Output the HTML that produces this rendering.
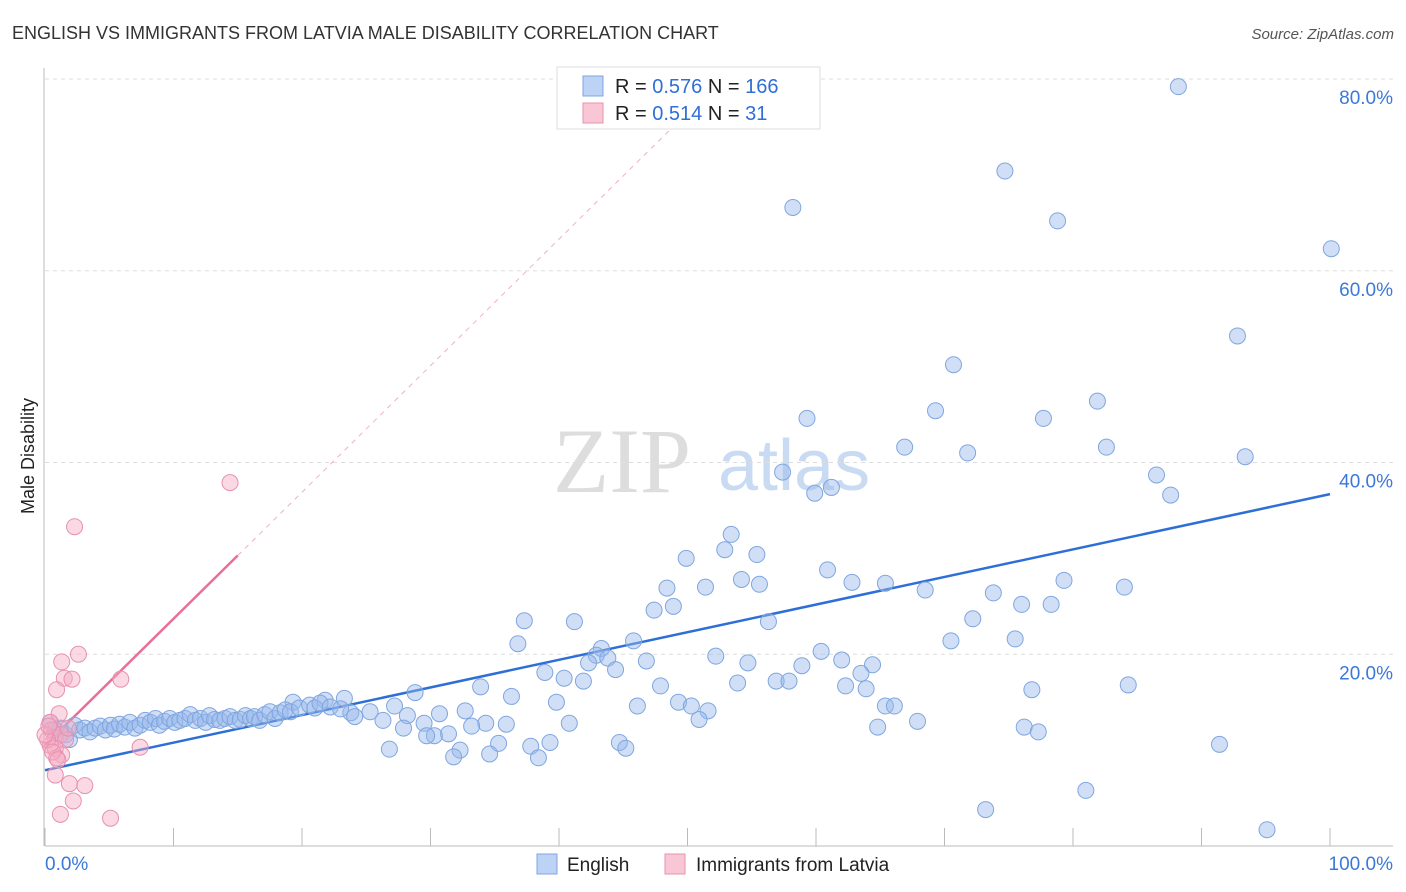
<!DOCTYPE html>
<html><head><meta charset="utf-8"><style>
body{margin:0;background:#fff;font-family:"Liberation Sans",sans-serif}
svg{display:block}
</style></head><body>
<svg id="chart" width="1406" height="892">
<text x="12" y="39" font-size="18" fill="#333">ENGLISH VS IMMIGRANTS FROM LATVIA MALE DISABILITY CORRELATION CHART</text>
<text x="1394" y="39" font-size="15" fill="#555" font-style="italic" text-anchor="end">Source: ZipAtlas.com</text>
<text transform="translate(34,456) rotate(-90)" font-size="18" fill="#222" text-anchor="middle">Male Disability</text>
<g><text x="553" y="492" font-size="92" fill="#ddd" font-family="Liberation Serif,serif">ZIP</text><text x="718" y="490" font-size="72" fill="#c8dbf3">atlas</text></g>
<g id="grid"></g><g id="axes"></g><g id="trend"></g><g id="pts"></g>
<g>
<rect x="557" y="67" width="263" height="62" fill="#fff" stroke="#ddd"/>
<rect x="583" y="76" width="20" height="20" fill="#bcd3f5" stroke="#7fa6e0"/>
<text x="615" y="93" font-size="20" fill="#222">R = <tspan fill="#2f6fd6">0.576</tspan>   N = <tspan fill="#2f6fd6">166</tspan></text>
<rect x="583" y="103" width="20" height="20" fill="#f9c6d6" stroke="#e891ad"/>
<text x="615" y="120" font-size="20" fill="#222">R = <tspan fill="#2f6fd6">0.514</tspan>   N =    <tspan fill="#2f6fd6">31</tspan></text>
</g>
<g>
<rect x="537" y="854" width="20" height="20" fill="#bcd3f5" stroke="#7fa6e0"/>
<text x="567" y="871" font-size="19" fill="#222">English</text>
<rect x="665" y="854" width="20" height="20" fill="#f9c6d6" stroke="#e891ad"/>
<text x="696" y="871" font-size="19" fill="#222">Immigrants from Latvia</text>
</g>
</svg>
<script>
const xTickLabels=["0.0%","100.0%"];
const yTicks=[20,40,60,80];
const yTickLabels=["20.0%","40.0%","60.0%","80.0%"];
const englishX=[88.2,74.7,58.2,78.8,100.1,92.8,70.7,69.3,59.3,77.7,81.9,66.9,71.8,82.6,93.4,57.4,61.2,59.9,86.5,87.6,53.4,52.9,55.4,49.9,60.9,54.2,55.6,62.8,65.4,79.3,48.4,51.4,68.5,84.0,73.8,47.4,48.9,76.0,78.3,37.3,41.2,56.3,72.2,36.8,45.8,43.3,70.5,75.5,42.9,43.8,52.2,60.4,54.7,46.8,42.3,38.9,44.4,58.9,62.0,64.4,63.5,40.4,41.9,33.9,47.9,53.9,56.9,57.9,62.3,63.9,76.8,84.3,28.8,36.3,39.8,49.3,23.3,21.8,19.3,27.2,46.1,50.3,51.6,65.4,66.1,32.7,30.7,28.2,23.8,50.9,40.8,34.3,35.9,33.2,29.5,26.3,67.9,64.8,76.2,77.3,27.9,31.4,30.3,29.7,44.7,35.3,39.3,37.8,45.2,91.4,26.8,32.3,34.6,31.8,38.4,81.0,73.2,95.1,0.4,0.8,1.2,1.6,1.9,2.3,2.7,3.1,3.5,3.9,4.3,4.7,5.1,5.4,5.8,6.2,6.6,7.0,7.4,7.8,8.2,8.6,8.9,9.3,9.7,10.1,10.5,10.9,11.3,11.7,12.1,12.5,12.8,13.2,13.6,14.0,14.4,14.8,15.2,15.6,16.0,16.3,16.7,17.1,17.5,17.9,18.3,18.7,19.1,19.8,20.6,21.0,21.4,22.2,23.0,24.1,25.3];
const englishY=[79.2,70.4,66.6,65.2,62.3,53.2,50.2,45.4,44.6,44.6,46.4,41.6,41.0,41.6,40.6,39.0,37.4,36.8,38.7,36.6,32.5,30.9,30.4,30.0,28.8,27.8,27.3,27.5,27.4,27.7,26.9,27.0,26.7,27.0,26.4,24.6,25.0,25.2,25.2,23.5,23.4,23.4,23.7,21.1,21.4,20.6,21.4,21.6,19.9,19.6,19.8,20.3,19.1,19.3,19.1,18.1,18.4,18.8,19.4,18.9,18.0,17.5,17.2,16.6,16.7,17.0,17.2,17.2,16.7,16.4,16.3,16.8,16.0,15.6,15.0,15.0,15.4,15.2,15.0,14.6,14.6,14.6,14.1,14.6,14.6,14.1,13.8,13.6,13.9,13.2,12.8,12.8,12.7,12.5,12.8,13.1,13.0,12.4,12.4,11.9,12.3,11.7,11.5,11.5,10.8,10.7,10.8,10.4,10.2,10.6,10.1,10.0,9.6,9.3,9.2,5.8,3.8,1.7,12.9,12.1,12.3,11.6,11.1,12.6,12.1,12.3,11.9,12.3,12.5,12.1,12.6,12.2,12.7,12.4,12.9,12.3,12.6,13.1,12.9,13.3,12.6,13.0,13.3,12.9,13.1,13.3,13.7,13.1,13.3,12.9,13.6,13.2,13.1,13.3,13.5,13.1,13.2,13.6,13.3,13.5,13.1,13.7,14.0,13.3,13.9,14.2,14.0,14.4,14.7,14.4,14.9,14.5,14.3,13.5,14.0];
const latviaX=[14.4,2.3,2.6,1.3,1.5,2.1,5.9,0.9,1.1,0.4,0.5,0.8,1.2,1.6,0.4,0.8,1.3,0.9,7.4,0.8,1.9,3.1,2.2,1.2,5.1,0.2,0.6,1.8,0.0,1.0,0.3];
const latviaY=[37.9,33.3,20.0,19.2,17.5,17.4,17.4,16.3,13.8,12.9,12.1,11.3,11.6,11.1,10.5,10.2,9.5,9.2,10.3,7.4,6.5,6.3,4.7,3.3,2.9,11.1,9.8,12.3,11.6,9.0,12.5];
const englishTrend=[7.9,36.7]; // value at x=0, x=100
const latviaTrend=[10.5,30.3]; // value at x=0, x=15

const NS="http://www.w3.org/2000/svg";
const X0=45,X1=1330,Y0=846,Y80=79;
const sx=v=>X0+(X1-X0)*v/100;
const sy=v=>Y0-(Y0-Y80)*v/80;
function mk(t,a,p){const e=document.createElementNS(NS,t);for(const k in a)e.setAttribute(k,a[k]);p.appendChild(e);return e;}
const grid=document.getElementById('grid'),axes=document.getElementById('axes'),trend=document.getElementById('trend'),pts=document.getElementById('pts');
yTicks.forEach((v,i)=>{
 const l=mk('line',{x1:X0,x2:1393,y1:sy(v),y2:sy(v),stroke:'#ddd','stroke-dasharray':'4,4'},grid);
 
 
 const t=mk('text',{x:1393,y:sy(v)+25,'font-size':19,fill:'#3b78d8','text-anchor':'end'},axes);
 t.textContent=yTickLabels[i];
 
 
});
const ya=mk('line',{x1:44,x2:44,y1:68,y2:Y0,stroke:'#bbb'},axes);


const xa=mk('line',{x1:X0,x2:1393,y1:Y0,y2:Y0,stroke:'#bbb'},axes);


for(let i=0;i<=10;i++){
 const tk=mk('line',{x1:sx(i*10),x2:sx(i*10),y1:Y0,y2:828,stroke:'#bbb'},axes);
 
 
}
[[0,'start',45],[100,'end',1393]].forEach((d,i)=>{
 const t=mk('text',{x:d[2],y:870,'font-size':19,fill:'#3b78d8','text-anchor':d[1]},axes);
 t.textContent=xTickLabels[i];
 
 
});
// trend lines
const bt=mk('line',{x1:sx(0),y1:sy(englishTrend[0]),x2:sx(100),y2:sy(englishTrend[1]),stroke:'#2d6fd6','stroke-width':2.5},trend);


const slope=(latviaTrend[1]-latviaTrend[0])/15;
const xe=(80-latviaTrend[0])/slope;
const pd=mk('line',{x1:sx(15),y1:sy(latviaTrend[1]),x2:sx(xe),y2:sy(80),stroke:'#f0b0c4','stroke-width':1,'stroke-dasharray':'5,5'},trend);


const pt=mk('line',{x1:sx(0),y1:sy(latviaTrend[0]),x2:sx(15),y2:sy(latviaTrend[1]),stroke:'#eb6e96','stroke-width':2.5},trend);


englishX.forEach((x,i)=>{
 const c=mk('circle',{cx:sx(x),cy:sy(englishY[i]),r:8,fill:'rgba(150,185,235,0.45)',stroke:'#7fa6e0','stroke-width':1},pts);
 
 
});
latviaX.forEach((x,i)=>{
 const c=mk('circle',{cx:sx(x),cy:sy(latviaY[i]),r:8,fill:'rgba(245,170,195,0.45)',stroke:'#e891ad','stroke-width':1},pts);
 
 
});
</script>
</body></html>
